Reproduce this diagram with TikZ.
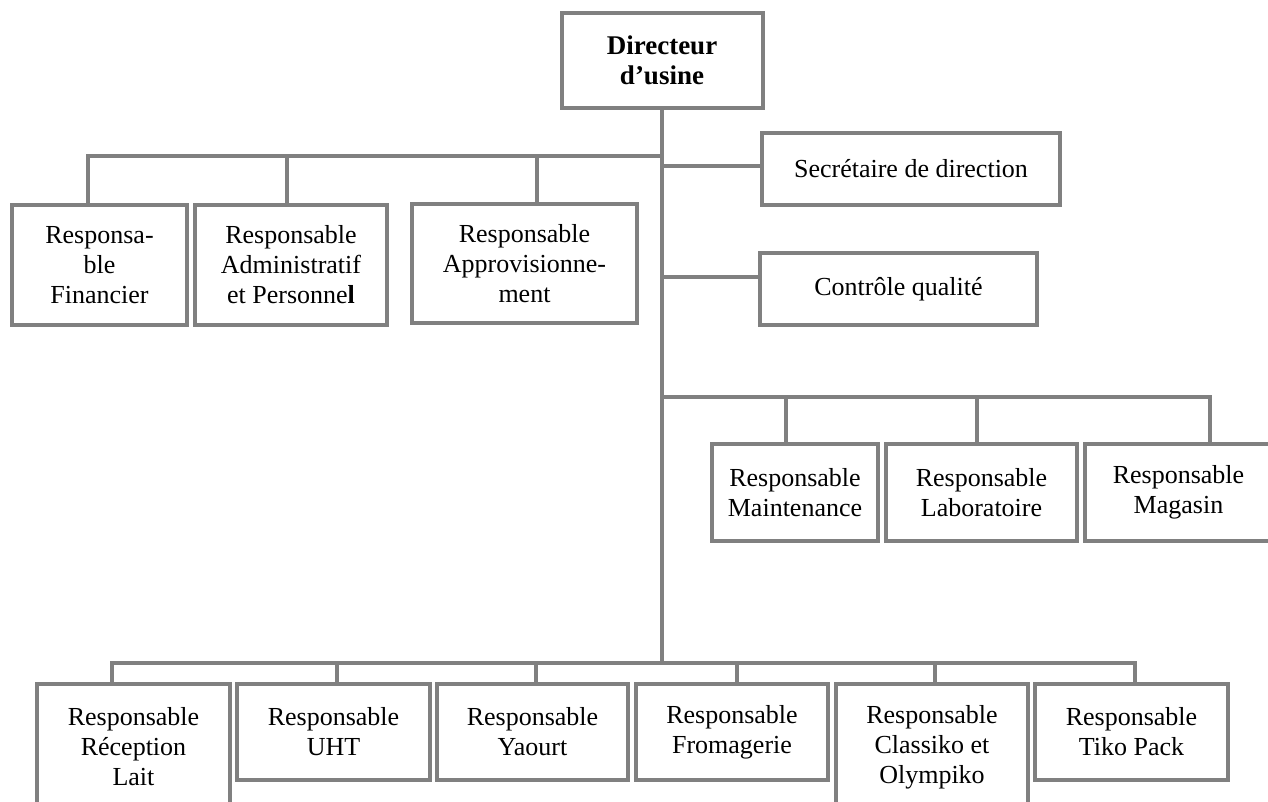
\documentclass[tikz,border=0pt]{standalone}
\usepackage{fontspec}
\setmainfont{Liberation Serif}
\definecolor{orggray}{RGB}{128,128,128}
\begin{document}
\begin{tikzpicture}[x=1pt,y=1pt,yscale=-1,
  post/.style={draw=orggray,line width=4pt,fill=white,align=center,inner sep=0pt,font=\fontsize{26}{30}\selectfont},
  link/.style={draw=orggray,line width=4pt}]
\useasboundingbox (0,0) rectangle (1268,802);
\clip (0,0) rectangle (1268,802);

% Direction
\node [post,minimum width=201,minimum height=95,font=\fontsize{27}{30}\selectfont] (dir) at (662,60.5) {\textbf{Directeur}\\\textbf{d'usine}};

% Top row
\node [post,minimum width=175,minimum height=120] (fin) at (99.5,265) {Responsa-\\ble\\Financier};
\node [post,minimum width=192,minimum height=120] (adm) at (291,265) {Responsable\\Administratif\\et Personne\textbf{l}};
\node [post,minimum width=225,minimum height=119] (app) at (524.5,263.5) {Responsable\\Approvisionne-\\ment};

% Staff boxes
\node [post,minimum width=298,minimum height=72] (sec) at (911,169) {Secrétaire de direction};
\node [post,minimum width=277,minimum height=72] (ctl) at (898.5,289) {Contrôle qualité};

% Middle row
\node [post,minimum width=166,minimum height=97] (mnt) at (795,492.5) {Responsable\\Maintenance};
\node [post,minimum width=191,minimum height=97] (lab) at (981.5,492.5) {Responsable\\Laboratoire};
\node [post,minimum width=187,minimum height=97] (mag) at (1178.5,492.5) {Responsable\\Magasin};

% Bottom row
\node [post,minimum width=193,minimum height=126] (rec) at (133.5,747) {Responsable\\Réception\\Lait};
\node [post,minimum width=193,minimum height=96] (uht) at (333.5,732) {Responsable\\UHT};
\node [post,minimum width=191,minimum height=96] (yao) at (532.5,732) {Responsable\\Yaourt};
\node [post,minimum width=192,minimum height=96] (fro) at (732,732) {Responsable\\Fromagerie};
\node [post,minimum width=192,minimum height=126] (cla) at (932,747) {Responsable\\Classiko et\\Olympiko};
\node [post,minimum width=193,minimum height=96] (tik) at (1131.5,732) {Responsable\\Tiko Pack};

% Bus points
\coordinate (busA) at (662,156);
\coordinate (busB) at (662,397);
\coordinate (busC) at (662,663);
\coordinate (jFin) at (88,156);
\coordinate (jAdm) at (287,156);
\coordinate (jApp) at (537,156);
\coordinate (jSec) at (662,166);
\coordinate (jCtl) at (662,277);
\coordinate (jMnt) at (786,397);
\coordinate (jLab) at (977,397);
\coordinate (jMag) at (1210,397);
\coordinate (jRec) at (112,663);
\coordinate (jUht) at (337,663);
\coordinate (jYao) at (536,663);
\coordinate (jFro) at (737,663);
\coordinate (jCla) at (935,663);
\coordinate (jTik) at (1135,663);

% Trunk
\draw [link] (dir.south) -- (busC);

% Top links
\draw [link] (jFin |- fin.north) -- (jFin) -- (busA);
\draw [link] (jAdm) -- (jAdm |- adm.north);
\draw [link] (jApp) -- (jApp |- app.north);
\draw [link] (jSec) -- (jSec -| sec.west);
\draw [link] (jCtl) -- (jCtl -| ctl.west);

% Middle links
\draw [link] (busB) -- (jMag) -- (jMag |- mag.north);
\draw [link] (jMnt) -- (jMnt |- mnt.north);
\draw [link] (jLab) -- (jLab |- lab.north);

% Bottom links
\draw [link] (jRec |- rec.north) -- (jRec) -- (jTik) -- (jTik |- tik.north);
\draw [link] (jUht) -- (jUht |- uht.north);
\draw [link] (jYao) -- (jYao |- yao.north);
\draw [link] (jFro) -- (jFro |- fro.north);
\draw [link] (jCla) -- (jCla |- cla.north);

\end{tikzpicture}
\end{document}
